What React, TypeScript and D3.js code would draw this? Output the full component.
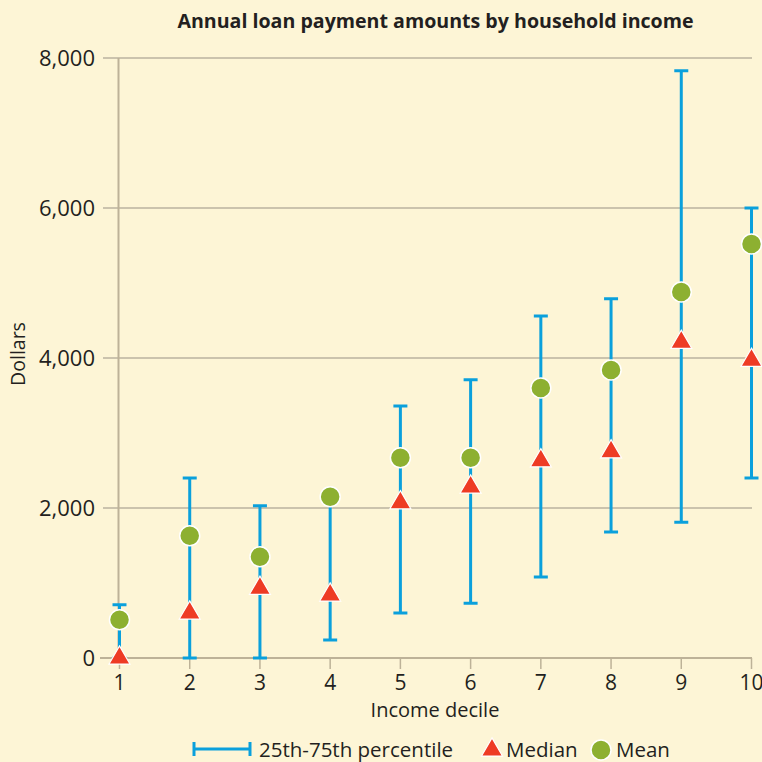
import React from "react";
import * as d3 from "d3";

const deciles = [1, 2, 3, 4, 5, 6, 7, 8, 9, 10];
const p25 = [0, 0, 0, 240, 600, 730, 1080, 1680, 1810, 2400];
const p75 = [710, 2400, 2030, 2150, 3360, 3710, 4560, 4790, 7830, 6000];
const medians = [0, 600, 930, 840, 2070, 2280, 2630, 2750, 4210, 3970];
const means = [510, 1630, 1350, 2150, 2670, 2670, 3600, 3840, 4880, 5520];
const yTicks = [0, 2000, 4000, 6000, 8000];

const W = 762;
const H = 762;
const font = "'Open Sans', Lato, sans-serif";
const ink = "#231f20";
const blue = "#0aa0dc";
const red = "#ee3b24";
const green = "#8db031";

export default function App() {
  const x = d3.scaleLinear().domain([1, 10]).range([119.5, 751.5]);
  const y = d3.scaleLinear().domain([0, 8000]).range([658, 58]);
  const fmt = d3.format(",");
  const tri = d3.symbol().type(d3.symbolTriangle).size(190);

  return (
    <svg
      width={W}
      height={H}
      style={{ position: "absolute", left: 0, top: 0, background: "#fdf5d6" }}
      fontFamily={font}
    >
      <rect width={W} height={H} fill="#fdf5d6" />
      <text x={435.5} y={28} textAnchor="middle" fontWeight={700} fontSize={19.6} fill={ink}>
        Annual loan payment amounts by household income
      </text>

      {/* grid */}
      {yTicks.map((t) => (
        <g key={t}>
          <line
            x1={t === 0 ? 100 : 103}
            x2={752}
            y1={y(t)}
            y2={y(t)}
            stroke={t === 0 ? "#bdb298" : "#9a9183"}
            strokeWidth={t === 0 ? 2 : 1.2}
          />
          <text x={95} y={y(t) + 7.5} textAnchor="end" fontSize={22} fill={ink}>
            {fmt(t)}
          </text>
        </g>
      ))}
      <line x1={x(1) - 1} x2={x(1) - 1} y1={y(8000)} y2={y(0)} stroke="#bdb298" strokeWidth={2} />

      {/* x ticks */}
      {deciles.map((d) => (
        <g key={d}>
          <line x1={x(d)} x2={x(d)} y1={y(0)} y2={y(0) + 11} stroke="#bdb298" strokeWidth={1.5} />
          <text x={x(d)} y={690} textAnchor="middle" fontSize={21} fill={ink}>
            {d}
          </text>
        </g>
      ))}
      <text x={435} y={717} textAnchor="middle" fontSize={20} fill={ink}>
        Income decile
      </text>
      <text
        transform={`translate(25,354) rotate(-90)`}
        textAnchor="middle"
        fontSize={19.5}
        fill={ink}
      >
        Dollars
      </text>

      {/* error bars */}
      {deciles.map((d, i) => (
        <g key={d} stroke={blue} strokeWidth={3}>
          <line x1={x(d)} x2={x(d)} y1={y(p25[i])} y2={y(p75[i])} />
          <line x1={x(d) - 7} x2={x(d) + 7} y1={y(p75[i])} y2={y(p75[i])} />
          <line x1={x(d) - 7} x2={x(d) + 7} y1={y(p25[i])} y2={y(p25[i])} />
        </g>
      ))}

      {/* medians */}
      {deciles.map((d, i) => (
        <path
          key={d}
          d={tri() as string}
          transform={`translate(${x(d)},${y(medians[i])})`}
          fill={red}
          stroke="#fff"
          strokeWidth={1.2}
        />
      ))}

      {/* means */}
      {deciles.map((d, i) => (
        <circle
          key={d}
          cx={x(d)}
          cy={y(means[i])}
          r={10}
          fill={green}
          stroke="#fff"
          strokeWidth={1.5}
        />
      ))}

      {/* legend */}
      <g stroke={blue} strokeWidth={3}>
        <line x1={194} x2={250} y1={749} y2={749} />
        <line x1={194} x2={194} y1={742} y2={756} />
        <line x1={250} x2={250} y1={742} y2={756} />
      </g>
      <text x={259} y={757} fontSize={20.5} fill={ink}>
        25th-75th percentile
      </text>
      <path d={tri() as string} transform="translate(492,750)" fill={red} stroke="#fff" strokeWidth={1.2} />
      <text x={506} y={757} fontSize={20.5} fill={ink}>
        Median
      </text>
      <circle cx={601} cy={750} r={10} fill={green} stroke="#fff" strokeWidth={1.5} />
      <text x={616} y={757} fontSize={20.5} fill={ink}>
        Mean
      </text>
    </svg>
  );
}
